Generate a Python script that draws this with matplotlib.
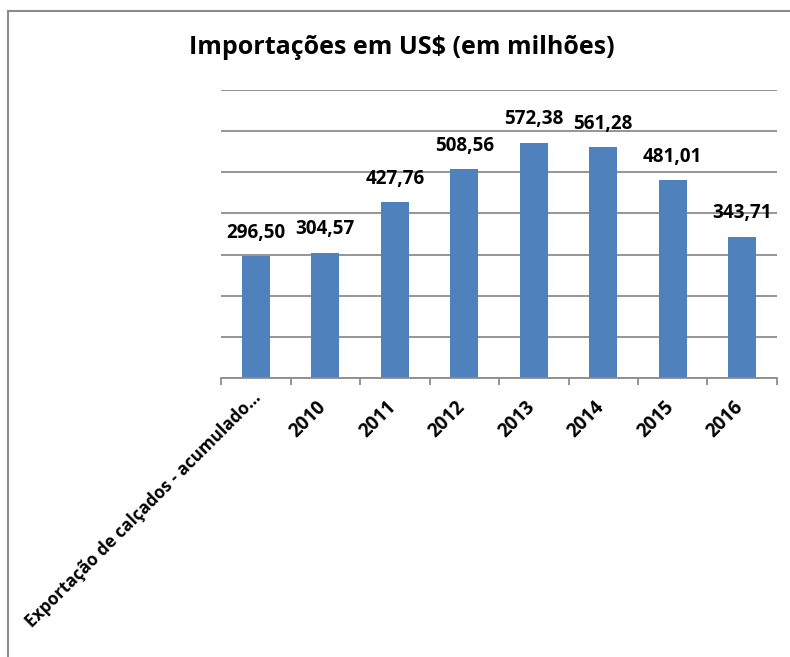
import matplotlib
matplotlib.use("Agg")
import matplotlib.pyplot as plt
from matplotlib.lines import Line2D
from matplotlib.transforms import ScaledTranslation

categories = ["Exportação de calçados - acumulado...", "2010", "2011", "2012",
              "2013", "2014", "2015", "2016"]
values = [296.50, 304.57, 427.76, 508.56, 572.38, 561.28, 481.01, 343.71]
value_labels = ["296,50", "304,57", "427,76", "508,56", "572,38", "561,28", "481,01", "343,71"]
title = "Importações em US$ (em milhões)"

W, H = 790, 657
plt.rcParams['font.family'] = ['Open Sans', 'DejaVu Sans']
fig = plt.figure(figsize=(W / 100, H / 100), dpi=100)
fig.patch.set_facecolor("white")

ax = fig.add_axes([221 / W, (H - 378) / H, (777 - 221) / W, (378 - 90) / H])
x = list(range(len(categories)))
ax.bar(x, values, width=0.4, color="#4F81BD", zorder=3)
ax.set_xlim(-0.5, len(categories) - 0.5)
ax.set_ylim(0, 700)
ax.set_yticks(range(0, 701, 100))
ax.yaxis.grid(True, color="#8C8C8C", linewidth=1.3, zorder=0)
ax.tick_params(axis="y", left=False, labelleft=False)
for s in ["top", "right", "left"]:
    ax.spines[s].set_visible(False)
ax.spines["bottom"].set_color("#8C8C8C")
ax.spines["bottom"].set_linewidth(1.3)
ax.spines["bottom"].set_zorder(4)

ax.set_xticks([i - 0.5 for i in range(len(categories) + 1)])
ax.set_xticklabels([])
ax.tick_params(axis="x", which="major", length=5, width=1.3, color="#8C8C8C")
ax.set_xticks(x, minor=True)
ax.set_xticklabels(categories, minor=True, rotation=45, ha="right", va="top",
                   fontsize=13.5, fontweight="bold")
ax.tick_params(axis="x", which="minor", length=0, pad=14)
for i, t in enumerate(ax.get_xticklabels(minor=True)):
    if i == 0:
        t.set_fontsize(12.3)
        dx, dy = 9, 9
    else:
        dx, dy = 5, 0
    t.set_transform(t.get_transform() + ScaledTranslation(dx / 100, dy / 100, fig.dpi_scale_trans))

for xi, v, lab in zip(x, values, value_labels):
    ax.annotate(lab, (xi, v), xytext=(0, 9.5), textcoords="offset points",
                ha="center", va="bottom", fontsize=13.6, fontweight="bold", color="black")

fig.text(402 / W, 1 - 48 / H, title, ha="center", va="center",
         fontsize=18, fontweight="bold")

# chart border (top and left edges visible)
fig.add_artist(Line2D([8 / W, 1.01], [1 - 11 / H, 1 - 11 / H], transform=fig.transFigure,
                      color="#8C8C8C", linewidth=1.5))
fig.add_artist(Line2D([8 / W, 8 / W], [1 - 11 / H, -0.01], transform=fig.transFigure,
                      color="#8C8C8C", linewidth=1.5))

fig.savefig("out.png", dpi=100, facecolor="white")
